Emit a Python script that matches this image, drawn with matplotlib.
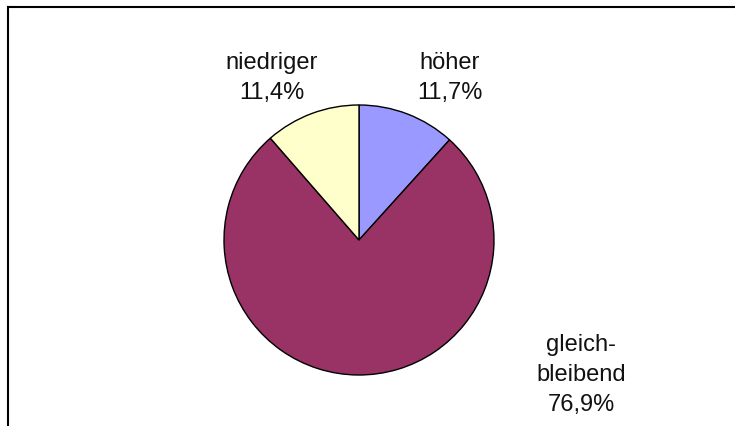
import matplotlib
matplotlib.use("Agg")
import matplotlib.pyplot as plt
from matplotlib.lines import Line2D

# data
labels = ["höher", "gleich-\nbleibend", "niedriger"]
values = [11.7, 76.9, 11.4]
colors = ["#9999FF", "#993366", "#FFFFCC"]

plt.rcParams['font.family'] = ['Liberation Sans', 'DejaVu Sans']

W, H = 735, 426
fig = plt.figure(figsize=(W / 100, H / 100), dpi=100)
ax = fig.add_axes([0, 0, 1, 1])

cx, cy, r = 359, H - 240, 135
wedges, _ = ax.pie(values, colors=colors, startangle=90, counterclock=False,
                   center=(cx, cy), radius=r, frame=True,
                   wedgeprops=dict(edgecolor='black', linewidth=1))
ax.set_xlim(0, W)
ax.set_ylim(0, H)
ax.set_aspect('equal')
ax.axis('off')

# label positions (pixels from top-left)
label_pos = [(450, 78), (581, 375), (272, 78)]
for lab, val, (x, y) in zip(labels, values, label_pos):
    txt = lab + "\n" + f"{val:.1f}%".replace(".", ",")
    ax.text(x, H - y, txt, ha='center', va='center', fontsize=17,
            linespacing=1.45, color='#111111')

# partial outer frame (top and left edges visible)
fig.add_artist(Line2D([8 / W, 1], [1 - 7 / H, 1 - 7 / H], transform=fig.transFigure,
                      color='black', linewidth=1.5))
fig.add_artist(Line2D([8 / W, 8 / W], [0, 1 - 7 / H], transform=fig.transFigure,
                      color='black', linewidth=1.5))

fig.savefig("out.png", dpi=100)
